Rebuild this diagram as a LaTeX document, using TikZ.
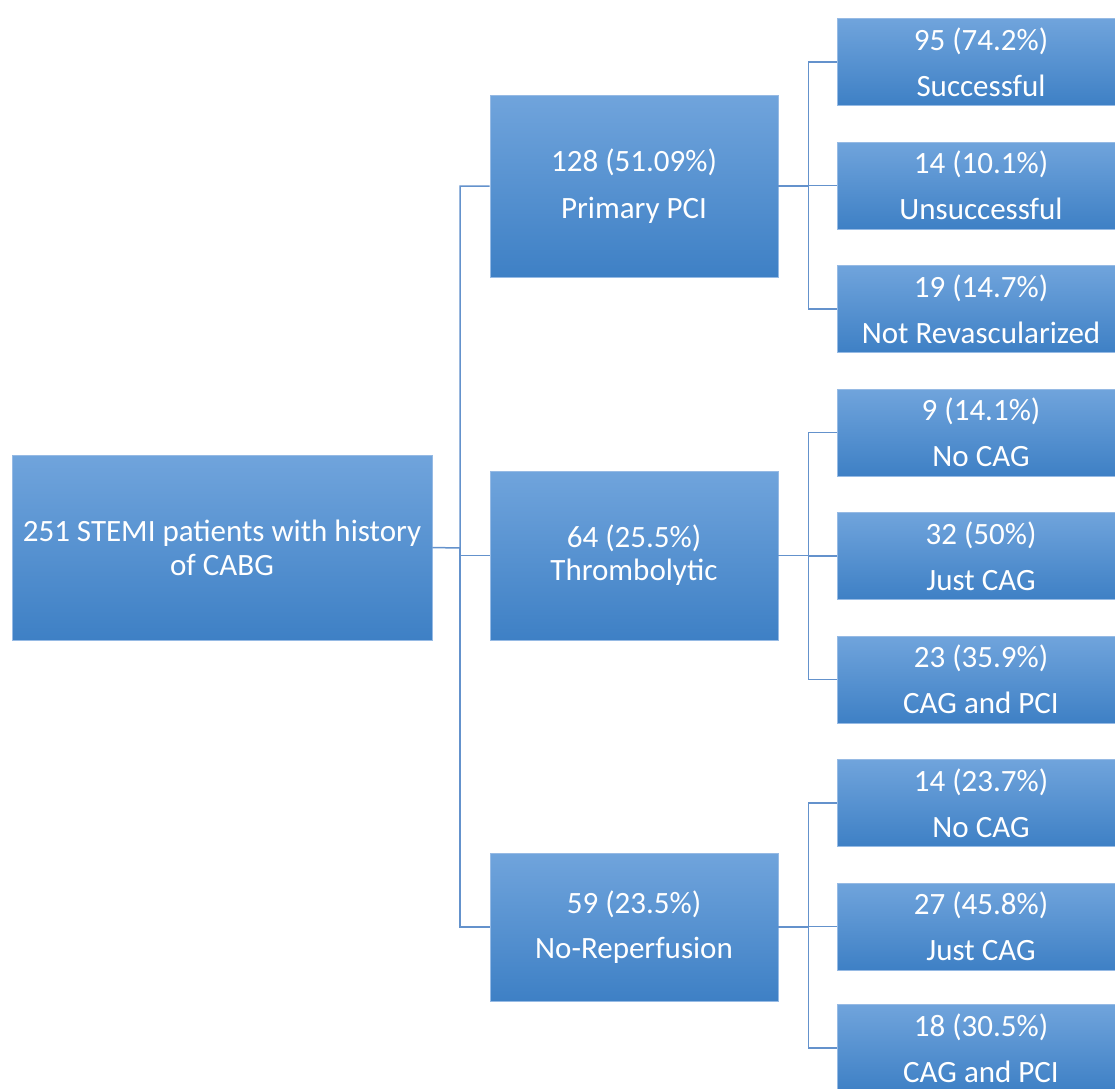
\documentclass[tikz,border=0pt]{standalone}
\usepackage{fontspec}
\setmainfont{Carlito}
\usetikzlibrary{positioning, calc}

\definecolor{boxtop}{RGB}{112,164,220}
\definecolor{boxbot}{RGB}{62,128,197}
\definecolor{boxedge}{RGB}{150,186,228}
\definecolor{wirecol}{RGB}{100,146,204}

\tikzset{
  box/.style={draw=boxedge, line width=0.8pt, top color=boxtop, bottom color=boxbot,
    text=white, align=center, inner sep=0pt, font=\fontsize{31}{37}\selectfont},
  midbox/.style={box, minimum width=288pt},
  leaf/.style={box, minimum width=288pt, minimum height=87pt},
  wire/.style={draw=wirecol, line width=1.5pt}
}

\begin{document}
\begin{tikzpicture}[x=1pt, y=-1pt]
  \useasboundingbox (0,0) rectangle (1115,1088);
  \clip (0,0) rectangle (1115,1088);

  % --- Root box
  \node[box, minimum width=420pt, minimum height=185pt] (root) at (222,547.5)
    {251 STEMI patients with history\\[-3pt]of CABG};

  % --- Treatment boxes
  \node[midbox, minimum height=182pt] (pci) at (634,186)   {128 (51.09\%)\\[10pt]Primary PCI};
  \node[midbox, minimum height=169pt] (thr) at (634,555.5) {64 (25.5\%)\\[-4pt]Thrombolytic};
  \node[midbox, minimum height=148pt] (nr)  at (634,927)   {59 (23.5\%)\\[8pt]No-Reperfusion};

  % --- Outcome boxes
  \foreach \name/\y/\num/\lab in {
      s1/62/95 (74.2\%)/Successful,
      s2/185.5/14 (10.1\%)/Unsuccessful,
      s3/309/19 (14.7\%)/Not Revascularized,
      t1/432.5/9 (14.1\%)/No CAG,
      t2/556/32 (50\%)/Just CAG,
      t3/679.5/23 (35.9\%)/CAG and PCI,
      n1/803/14 (23.7\%)/No CAG,
      n2/926.5/27 (45.8\%)/Just CAG,
      n3/1048/18 (30.5\%)/CAG and PCI} {
    \node[leaf] (\name) at (981,\y) {\num\\[9pt]\lab};
  }

  % --- Connectors: root to treatments
  \coordinate (bus) at (460,548);
  \draw[wire] (root.east) -- (bus) |- (pci.west);
  \draw[wire] (bus) |- (thr.west);
  \draw[wire] (bus) |- (nr.west);

  % --- Connectors: treatments to outcomes
  \foreach \mid/\a/\b/\c in {pci/s1/s2/s3, thr/t1/t2/t3, nr/n1/n2/n3} {
    \coordinate (\mid-bus) at ($(\mid.east)+(30,0)$);
    \draw[wire] (\mid.east) -- (\mid-bus) |- (\a.west);
    \draw[wire] (\mid-bus) |- (\b.west);
    \draw[wire] (\mid-bus) |- (\c.west);
  }
\end{tikzpicture}
\end{document}
